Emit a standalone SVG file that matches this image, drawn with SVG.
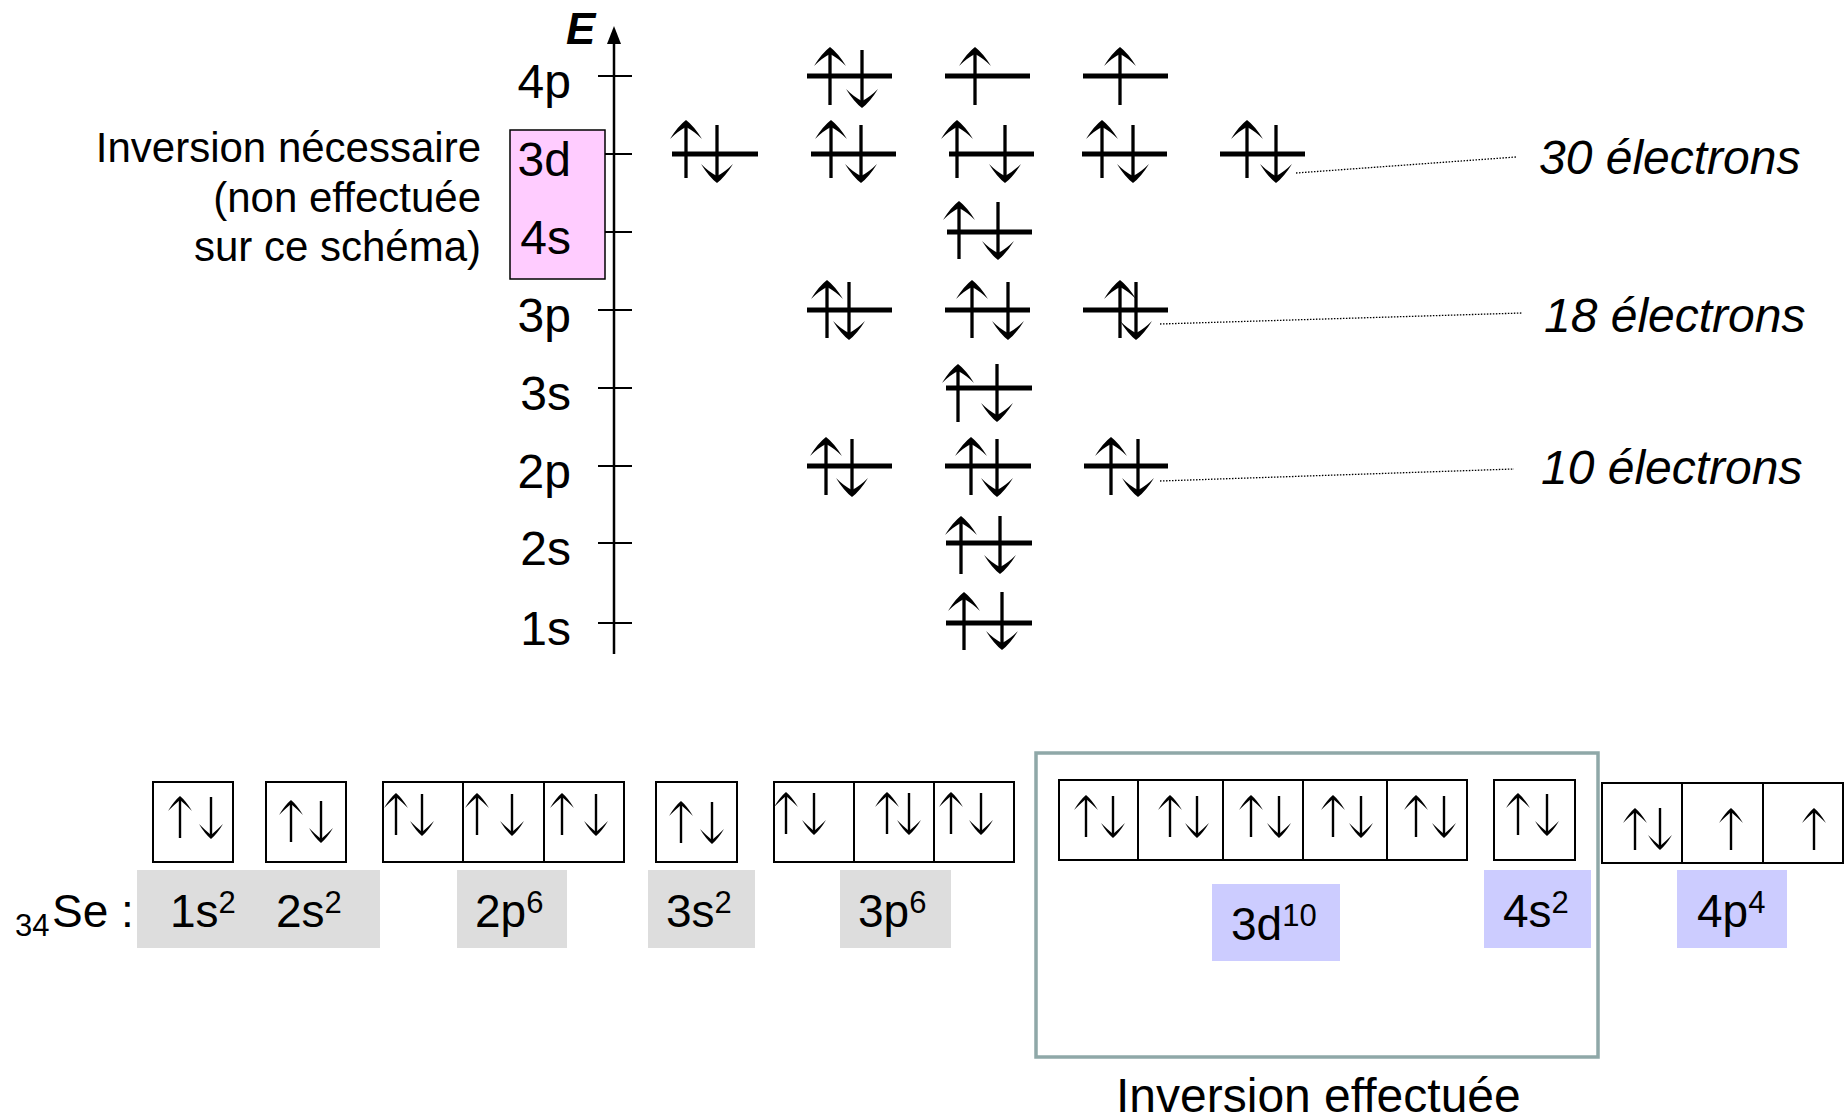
<svg xmlns="http://www.w3.org/2000/svg" xmlns:xlink="http://www.w3.org/1999/xlink" width="1847" height="1119" viewBox="0 0 1847 1119">
<defs>
<style>
text{font-family:"Liberation Sans",Arial,sans-serif;fill:#000}
.lvl{font-size:48px;text-anchor:end}
.lbl{font-size:48px;font-style:italic}
.note{font-size:42px;text-anchor:end}
.cfg{font-size:46px}
.sup{font-size:31px}
.tick{stroke:#000;stroke-width:2}
.orb{stroke:#000;stroke-width:5}
.box{fill:#fff;stroke:#000;stroke-width:2}
.gray{fill:#DDDDDD}
.blue{fill:#CCCCFF}
.dot{stroke:#000;stroke-width:1.3;stroke-dasharray:1.5 1.5;fill:none}
.sh{stroke:#000;stroke-width:3.3}
.shb{stroke:#000;stroke-width:2.4}
</style>
<g id="ua"><line class="sh" x1="0" y1="4" x2="0" y2="58"/><path d="M0,0 Q-8,6 -16,19 Q-8,11 0,7 Q8,11 16,19 Q8,6 0,0 Z"/></g>
<g id="da"><line class="sh" x1="0" y1="0" x2="0" y2="54"/><path d="M0,58 Q-8,52 -16,39 Q-8,47 0,51 Q8,47 16,39 Q8,52 0,58 Z"/></g>
<g id="ub"><line class="shb" x1="0" y1="3" x2="0" y2="42"/><path d="M0,0 Q-6,5 -12,15 Q-6,9 0,4 Q6,9 12,15 Q6,5 0,0 Z"/></g>
<g id="db"><line class="shb" x1="0" y1="0" x2="0" y2="39"/><path d="M0,42 Q-6,37 -12,27 Q-6,33 0,38 Q6,33 12,27 Q6,37 0,42 Z"/></g>
</defs>

<rect width="1847" height="1119" fill="#fff"/>

<!-- Energy axis -->
<g id="axis">
  <line x1="614" y1="654" x2="614" y2="40" stroke="#000" stroke-width="2.5"/>
  <polygon points="614,26 607,44 621,44" fill="#000"/>
  <text x="566" y="44" font-size="44" font-weight="bold" font-style="italic">E</text>
  <line class="tick" x1="598" y1="76" x2="632" y2="76"/>
  <line class="tick" x1="598" y1="154" x2="632" y2="154"/>
  <line class="tick" x1="598" y1="232" x2="632" y2="232"/>
  <line class="tick" x1="598" y1="310" x2="632" y2="310"/>
  <line class="tick" x1="598" y1="388" x2="632" y2="388"/>
  <line class="tick" x1="598" y1="466" x2="632" y2="466"/>
  <line class="tick" x1="598" y1="543" x2="632" y2="543"/>
  <line class="tick" x1="598" y1="623" x2="632" y2="623"/>
</g>

<g id="inversion-note">
  <rect x="510" y="130" width="95" height="149" fill="#FFCCFF" stroke="#000" stroke-width="1.5"/>
  <text class="note" x="481" y="162">Inversion nécessaire</text>
  <text class="note" x="481" y="212">(non effectuée</text>
  <text class="note" x="481" y="261">sur ce schéma)</text>
</g>

<g id="level-labels">
  <text class="lvl" x="571" y="98">4p</text>
  <text class="lvl" x="571" y="176">3d</text>
  <text class="lvl" x="571" y="254">4s</text>
  <text class="lvl" x="571" y="332">3p</text>
  <text class="lvl" x="571" y="410">3s</text>
  <text class="lvl" x="571" y="488">2p</text>
  <text class="lvl" x="571" y="565">2s</text>
  <text class="lvl" x="571" y="645">1s</text>
</g>

<!-- Orbitals -->
<g id="level-4p">
  <line class="orb" x1="807" y1="76" x2="892" y2="76"/><use xlink:href="#ua" x="830" y="47"/><use xlink:href="#da" x="862" y="50"/>
  <line class="orb" x1="945" y1="76" x2="1030" y2="76"/><use xlink:href="#ua" x="975" y="47"/>
  <line class="orb" x1="1083" y1="76" x2="1168" y2="76"/><use xlink:href="#ua" x="1120" y="47"/>
</g>
<g id="level-3d">
  <line class="orb" x1="672" y1="154" x2="758" y2="154"/><use xlink:href="#ua" x="686" y="120"/><use xlink:href="#da" x="717" y="125"/>
  <line class="orb" x1="811" y1="154" x2="896" y2="154"/><use xlink:href="#ua" x="831" y="120"/><use xlink:href="#da" x="861" y="125"/>
  <line class="orb" x1="949" y1="154" x2="1034" y2="154"/><use xlink:href="#ua" x="957" y="120"/><use xlink:href="#da" x="1005" y="125"/>
  <line class="orb" x1="1082" y1="154" x2="1167" y2="154"/><use xlink:href="#ua" x="1102" y="120"/><use xlink:href="#da" x="1133" y="125"/>
  <line class="orb" x1="1220" y1="154" x2="1305" y2="154"/><use xlink:href="#ua" x="1247" y="120"/><use xlink:href="#da" x="1276" y="125"/>
</g>
<g id="level-4s">
  <line class="orb" x1="947" y1="232" x2="1032" y2="232"/><use xlink:href="#ua" x="959" y="201"/><use xlink:href="#da" x="998" y="202"/>
</g>
<g id="level-3p">
  <line class="orb" x1="807" y1="310" x2="892" y2="310"/><use xlink:href="#ua" x="827" y="280"/><use xlink:href="#da" x="849" y="282"/>
  <line class="orb" x1="945" y1="310" x2="1030" y2="310"/><use xlink:href="#ua" x="972" y="280"/><use xlink:href="#da" x="1008" y="282"/>
  <line class="orb" x1="1083" y1="310" x2="1168" y2="310"/><use xlink:href="#ua" x="1120" y="280"/><use xlink:href="#da" x="1136" y="282"/>
</g>
<g id="level-3s">
  <line class="orb" x1="946" y1="388" x2="1032" y2="388"/><use xlink:href="#ua" x="958" y="364"/><use xlink:href="#da" x="997" y="364"/>
</g>
<g id="level-2p">
  <line class="orb" x1="807" y1="466" x2="892" y2="466"/><use xlink:href="#ua" x="826" y="437"/><use xlink:href="#da" x="852" y="439"/>
  <line class="orb" x1="945" y1="466" x2="1031" y2="466"/><use xlink:href="#ua" x="971" y="437"/><use xlink:href="#da" x="997" y="439"/>
  <line class="orb" x1="1084" y1="466" x2="1168" y2="466"/><use xlink:href="#ua" x="1111" y="437"/><use xlink:href="#da" x="1138" y="439"/>
</g>
<g id="level-2s">
  <line class="orb" x1="946" y1="543" x2="1032" y2="543"/><use xlink:href="#ua" x="961" y="516"/><use xlink:href="#da" x="1000" y="516"/>
</g>
<g id="level-1s">
  <line class="orb" x1="946" y1="623" x2="1032" y2="623"/><use xlink:href="#ua" x="964" y="592"/><use xlink:href="#da" x="1002" y="592"/>
</g>

<!-- Connectors (dotted leaders) -->
<g id="connectors">
  <line class="dot" x1="1296" y1="173" x2="1516" y2="157"/>
  <line class="dot" x1="1160" y1="324" x2="1522" y2="313"/>
  <line class="dot" x1="1160" y1="481" x2="1514" y2="469"/>
</g>

<g id="count-labels">
  <text class="lbl" x="1539" y="174">30 électrons</text>
  <text class="lbl" x="1544" y="332">18 électrons</text>
  <text class="lbl" x="1541" y="484">10 électrons</text>
</g>

<!-- Bottom configuration -->
<g id="highlights">
  <rect class="gray" x="137" y="870" width="243" height="78"/>
  <rect class="gray" x="457" y="870" width="110" height="78"/>
  <rect class="gray" x="648" y="870" width="107" height="78"/>
  <rect class="gray" x="840" y="870" width="111" height="78"/>
  <rect class="blue" x="1212" y="884" width="128" height="77"/>
  <rect class="blue" x="1484" y="870" width="107" height="78"/>
  <rect class="blue" x="1677" y="870" width="110" height="78"/>
</g>

<g id="inversion-frame">
  <rect x="1036" y="753" width="562" height="304" fill="none" stroke="#8FA8A8" stroke-width="3.5"/>
  <text x="1116" y="1112" font-size="48">Inversion effectuée</text>
</g>

<g id="box-1s">
  <rect class="box" x="153" y="782" width="80" height="80"/>
  <use xlink:href="#ub" x="180" y="796"/><use xlink:href="#db" x="211" y="797"/>
</g>
<g id="box-2s">
  <rect class="box" x="266" y="782" width="80" height="80"/>
  <use xlink:href="#ub" x="291" y="800"/><use xlink:href="#db" x="321" y="801"/>
</g>
<g id="box-2p">
  <rect class="box" x="383" y="782" width="80" height="80"/>
  <rect class="box" x="463" y="782" width="81" height="80"/>
  <rect class="box" x="544" y="782" width="80" height="80"/>
  <use xlink:href="#ub" x="396" y="793"/><use xlink:href="#db" x="422" y="794"/>
  <use xlink:href="#ub" x="477" y="793"/><use xlink:href="#db" x="512" y="794"/>
  <use xlink:href="#ub" x="562" y="793"/><use xlink:href="#db" x="596" y="794"/>
</g>
<g id="box-3s">
  <rect class="box" x="656" y="782" width="81" height="80"/>
  <use xlink:href="#ub" x="681" y="801"/><use xlink:href="#db" x="712" y="802"/>
</g>
<g id="box-3p">
  <rect class="box" x="774" y="782" width="80" height="80"/>
  <rect class="box" x="854" y="782" width="80" height="80"/>
  <rect class="box" x="934" y="782" width="80" height="80"/>
  <use xlink:href="#ub" x="786" y="792"/><use xlink:href="#db" x="814" y="793"/>
  <use xlink:href="#ub" x="887" y="792"/><use xlink:href="#db" x="909" y="793"/>
  <use xlink:href="#ub" x="951" y="792"/><use xlink:href="#db" x="981" y="793"/>
</g>
<g id="box-3d">
  <rect class="box" x="1059" y="780" width="79" height="80"/>
  <rect class="box" x="1138" y="780" width="85" height="80"/>
  <rect class="box" x="1223" y="780" width="80" height="80"/>
  <rect class="box" x="1303" y="780" width="84" height="80"/>
  <rect class="box" x="1387" y="780" width="80" height="80"/>
  <use xlink:href="#ub" x="1086" y="795"/><use xlink:href="#db" x="1113" y="796"/>
  <use xlink:href="#ub" x="1170" y="795"/><use xlink:href="#db" x="1197" y="796"/>
  <use xlink:href="#ub" x="1251" y="795"/><use xlink:href="#db" x="1279" y="796"/>
  <use xlink:href="#ub" x="1333" y="795"/><use xlink:href="#db" x="1361" y="796"/>
  <use xlink:href="#ub" x="1416" y="795"/><use xlink:href="#db" x="1444" y="796"/>
</g>
<g id="box-4s">
  <rect class="box" x="1494" y="780" width="81" height="80"/>
  <use xlink:href="#ub" x="1518" y="793"/><use xlink:href="#db" x="1547" y="794"/>
</g>
<g id="box-4p">
  <rect class="box" x="1602" y="783" width="80" height="80"/>
  <rect class="box" x="1682" y="783" width="81" height="80"/>
  <rect class="box" x="1763" y="783" width="80" height="80"/>
  <use xlink:href="#ub" x="1635" y="808"/><use xlink:href="#db" x="1660" y="808"/>
  <use xlink:href="#ub" x="1731" y="808"/>
  <use xlink:href="#ub" x="1814" y="808"/>
</g>

<g id="config-text">
  <text x="15" y="936" font-size="31">34</text>
  <text class="cfg" x="52" y="927">Se :</text>
  <text class="cfg" x="170" y="927">1s<tspan class="sup" dy="-14">2</tspan></text>
  <text class="cfg" x="276" y="927">2s<tspan class="sup" dy="-14">2</tspan></text>
  <text class="cfg" x="475" y="927">2p<tspan class="sup" dy="-14">6</tspan></text>
  <text class="cfg" x="666" y="927">3s<tspan class="sup" dy="-14">2</tspan></text>
  <text class="cfg" x="858" y="927">3p<tspan class="sup" dy="-14">6</tspan></text>
  <text class="cfg" x="1231" y="940">3d<tspan class="sup" dy="-14">10</tspan></text>
  <text class="cfg" x="1503" y="927">4s<tspan class="sup" dy="-14">2</tspan></text>
  <text class="cfg" x="1697" y="927">4p<tspan class="sup" dy="-14">4</tspan></text>
</g>
</svg>
